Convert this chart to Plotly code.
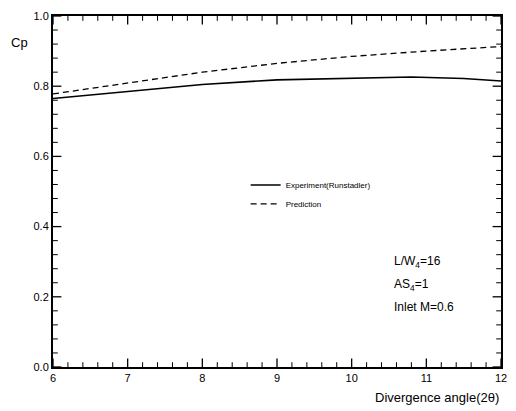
import plotly.graph_objects as go

exp_x = [6, 7, 8, 9, 10, 10.8, 11.5, 12]
exp_y = [0.765, 0.785, 0.805, 0.818, 0.823, 0.826, 0.822, 0.815]
pred_x = [6, 7, 8, 9, 10, 11, 12]
pred_y = [0.778, 0.81, 0.84, 0.865, 0.885, 0.9, 0.913]

x_ticks = [6, 7, 8, 9, 10, 11, 12]
y_ticks = [0.0, 0.2, 0.4, 0.6, 0.8, 1.0]
x_minor = [round(6 + 0.2 * i, 2) for i in range(31) if i % 5 != 0]
y_minor = [round(0.04 * i, 2) for i in range(26) if i % 5 != 0]

font = "Liberation Sans, Arial, sans-serif"
W, H = 508, 403
ML, MR, MT, MB = 45, 15, 8, 44
px_x = (W - ML - MR) / 6.0
px_y = (H - MT - MB) / 1.0

fig = go.Figure()
fig.add_trace(go.Scatter(x=exp_x, y=exp_y, mode="lines", name="Experiment(Runstadler)",
                         line=dict(color="black", width=1.6)))
fig.add_trace(go.Scatter(x=pred_x, y=pred_y, mode="lines", name="Prediction",
                         line=dict(color="black", width=1.3, dash="6px,4px")))

# inside tick marks drawn as line markers on the axes
def tick_trace(xs, ys, symbol, size, width):
    return go.Scatter(x=xs, y=ys, mode="markers", showlegend=False, hoverinfo="skip", cliponaxis=False,
                      marker=dict(symbol=symbol, size=size, color="black", line=dict(width=width, color="black")))

for vals, ln, wd in [(x_ticks, 7, 1.3), (x_minor, 4, 1.0)]:
    d = (ln / 2) / px_y
    fig.add_trace(tick_trace(vals, [0 + d] * len(vals), "line-ns", ln, wd))
    fig.add_trace(tick_trace(vals, [1 - d] * len(vals), "line-ns", ln, wd))
for vals, ln, wd in [(y_ticks, 7, 1.3), (y_minor, 4, 1.0)]:
    d = (ln / 2) / px_x
    fig.add_trace(tick_trace([6 + d] * len(vals), vals, "line-ew", ln, wd))
    fig.add_trace(tick_trace([12 - d] * len(vals), vals, "line-ew", ln, wd))

common = dict(showgrid=False, zeroline=False, showline=True, linecolor="black", linewidth=2,
              mirror=True, ticks="", automargin=False,
              tickfont=dict(family=font, size=11, color="black"))
fig.update_xaxes(range=[6, 12], tickmode="array", tickvals=x_ticks, ticktext=[str(v) for v in x_ticks],
                 **common)
fig.update_yaxes(range=[0, 1.0], tickmode="array", tickvals=y_ticks, ticktext=[f"{v:.1f}" for v in y_ticks],
                 **common)

fig.add_annotation(text="Cp", xref="paper", yref="paper", x=-0.075, y=0.925, showarrow=False,
                   xanchor="center", yanchor="middle", font=dict(family=font, size=13, color="black"))
fig.add_annotation(text="Divergence angle(2θ)", xref="paper", yref="paper", x=1.0, y=-0.06,
                   showarrow=False, xanchor="right", yanchor="top",
                   font=dict(family=font, size=13, color="black"))
for i, t in enumerate(["L/W<sub>4</sub>=16", "AS<sub>4</sub>=1", "Inlet M=0.6"]):
    fig.add_annotation(text=t, xref="paper", yref="paper", x=0.757, y=0.3 - i*0.065,
                       showarrow=False, xanchor="left", yanchor="middle",
                       font=dict(family=font, size=12, color="black"))

fig.update_layout(
    template="none",
    width=W, height=H,
    margin=dict(l=ML, r=MR, t=MT, b=MB),
    paper_bgcolor="white", plot_bgcolor="white",
    showlegend=True,
    legend=dict(x=0.43, y=0.56, xanchor="left", yanchor="top", bgcolor="rgba(0,0,0,0)",
                font=dict(family=font, size=8, color="black"), itemwidth=30, tracegroupgap=0),
)

fig.write_html("out.html")
